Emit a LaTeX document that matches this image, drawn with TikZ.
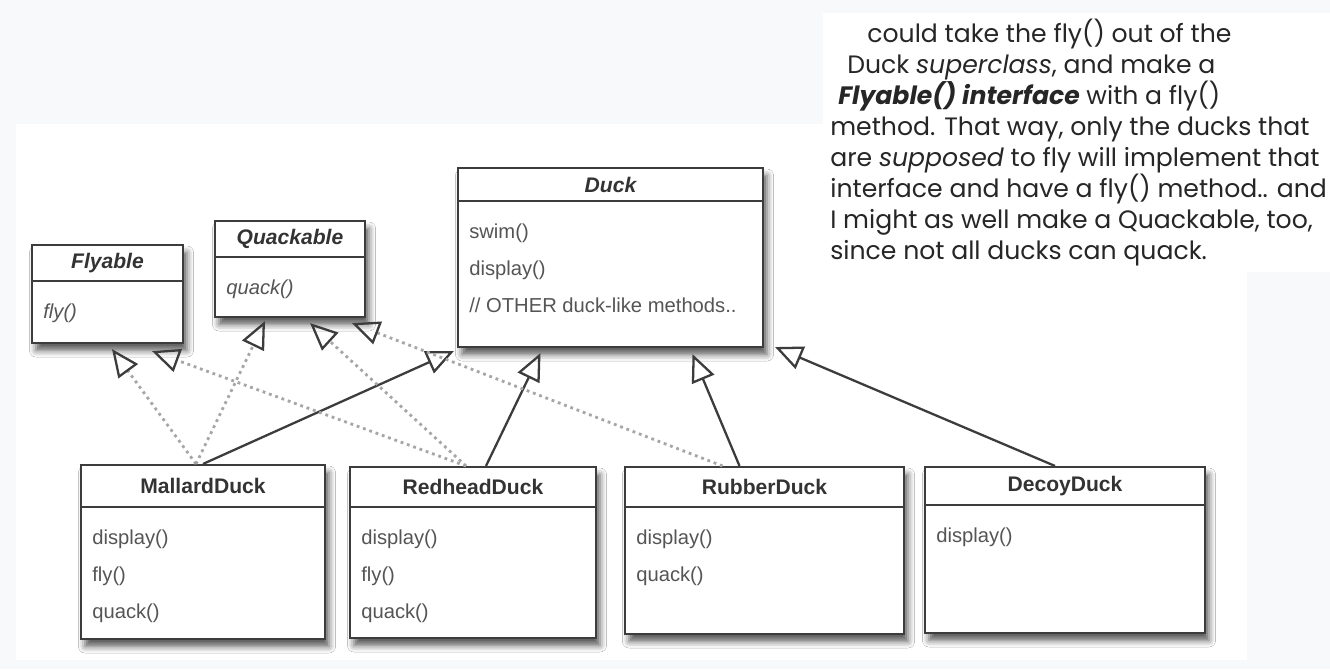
\documentclass[tikz,border=0pt]{standalone}
\usepackage{fontspec}
\setmainfont{Liberation Sans}
\newfontfamily\notefont{Poppins}
\usetikzlibrary{arrows.meta,shadows.blur}
\definecolor{pagegray}{HTML}{F8F9FB}
\definecolor{umlline}{HTML}{3C3C3C}
\definecolor{umltext}{HTML}{555555}
\tikzset{
  classbox/.style 2 args={draw=umlline, line width=1.2pt, fill=white, inner sep=0pt,
    minimum width=#1, minimum height=#2,
    blur shadow={shadow xshift=0.08cm, shadow yshift=-0.15cm, shadow blur radius=0.13cm, shadow opacity=65}},
  classtitle/.style 2 args={draw=umlline, line width=1.2pt, anchor=north, inner sep=0pt,
    minimum width=#1, minimum height=#2, font=\fontsize{12}{14}\selectfont\bfseries, text=black!80},
  interface/.style={font=\fontsize{12}{14}\selectfont\bfseries\itshape},
  methods/.style={anchor=north west, align=left, inner xsep=0.24cm, inner ysep=0.43cm,
    font=\fontsize{11.5}{21}\selectfont, text=umltext},
  extends/.style={draw=umlline, line width=1.3pt,
    -{Triangle[open, length=0.55cm, width=0.48cm, line width=1.3pt]}},
  implements/.style={draw=black!35, line width=1.6pt, dash pattern=on 1.6pt off 2.2pt,
    -{Triangle[open, length=0.55cm, width=0.48cm, line width=1.3pt, color=umlline]}}
}
\begin{document}
\begin{tikzpicture}
\useasboundingbox (0,0) rectangle (26.6,-13.38);
\fill[pagegray] (0,0) rectangle (26.6,-13.38);
\fill[white] (0.32,-2.48) rectangle (24.94,-13.2);
\fill[white] (16.46,-0.26) rectangle (26.6,-5.44);

% the note on the right
\node[anchor=north west, align=left, inner sep=0pt, text=black!85,
  font=\notefont\fontsize{14.3}{17.65}\selectfont] (note) at (16.6,-0.38)
  {\hspace*{0.74cm}could take the fly() out of the\\
   \hspace*{0.34cm}Duck \textit{superclass}, and make a\\
   \hspace*{0.16cm}{\bfseries\itshape Flyable() interface} with a fly()\\
   method. That way, only the ducks that\\
   are \textit{supposed} to fly will implement that\\
   interface and have a fly() method.. and\\
   I might as well make a Quackable, too,\\
   since not all ducks can quack.};

% interfaces
\node[classbox={3.02cm}{1.96cm}] (Fly) at (2.15,-5.88) {};
\node[classtitle={3.02cm}{0.72cm}, interface] (FlyT) at (Fly.north) {Flyable};
\node[methods] (FlyM) at (FlyT.south west) {\itshape fly()};

\node[classbox={3.00cm}{1.92cm}] (Qk) at (5.80,-5.38) {};
\node[classtitle={3.00cm}{0.72cm}, interface] (QkT) at (Qk.north) {Quackable};
\node[methods] (QkM) at (QkT.south west) {\itshape quack()};

% superclass
\node[classbox={6.10cm}{3.58cm}] (Dk) at (12.21,-5.15) {};
\node[classtitle={6.10cm}{0.66cm}, interface] (DkT) at (Dk.north) {Duck};
\node[methods] (DkM) at (DkT.south west) {swim()\\display()\\// OTHER duck-like methods..};

% ducks
\node[classbox={4.88cm}{3.48cm}] (MD) at (4.06,-11.04) {};
\node[classtitle={4.88cm}{0.84cm}] (MDT) at (MD.north) {MallardDuck};
\node[methods] (MDM) at (MDT.south west) {display()\\fly()\\quack()};

\node[classbox={4.92cm}{3.42cm}] (RD) at (9.46,-11.05) {};
\node[classtitle={4.92cm}{0.80cm}] (RDT) at (RD.north) {RedheadDuck};
\node[methods] (RDM) at (RDT.south west) {display()\\fly()\\quack()};

\node[classbox={5.58cm}{3.34cm}] (RuD) at (15.29,-11.01) {};
\node[classtitle={5.58cm}{0.80cm}] (RuDT) at (RuD.north) {RubberDuck};
\node[methods] (RuDM) at (RuDT.south west) {display()\\quack()};

\node[classbox={5.60cm}{3.32cm}] (DD) at (21.30,-11.00) {};
\node[classtitle={5.60cm}{0.76cm}] (DDT) at (DD.north) {DecoyDuck};
\node[methods] (DDM) at (DDT.south west) {display()};

% inheritance
\draw[extends] (MD.north) -- ([shift={(-0.06,-0.06)}]Dk.south west);
\draw[extends] ([xshift=0.26cm]RD.north) -- ([shift={(-1.40,-0.10)}]Dk.south);
\draw[extends] ([xshift=-0.50cm]RuD.north) -- ([shift={(1.64,-0.12)}]Dk.south);
\draw[extends] ([xshift=-0.20cm]DD.north) -- ([shift={(0.22,0.02)}]Dk.south east);

% interfaces implemented
\draw[implements] ([xshift=-0.14cm]MD.north) -- ([shift={(0.09,-0.10)}]Fly.south);
\draw[implements] ([xshift=-0.14cm]MD.north) -- ([shift={(-0.50,-0.06)}]Qk.south);
\draw[implements] ([xshift=-0.14cm]RD.north) -- ([shift={(0.89,-0.14)}]Fly.south);
\draw[implements] ([xshift=-0.14cm]RD.north) -- ([shift={(0.40,-0.10)}]Qk.south);
\draw[implements] ([xshift=-0.84cm]RuD.north) -- ([shift={(1.24,-0.10)}]Qk.south);
\end{tikzpicture}
\end{document}
